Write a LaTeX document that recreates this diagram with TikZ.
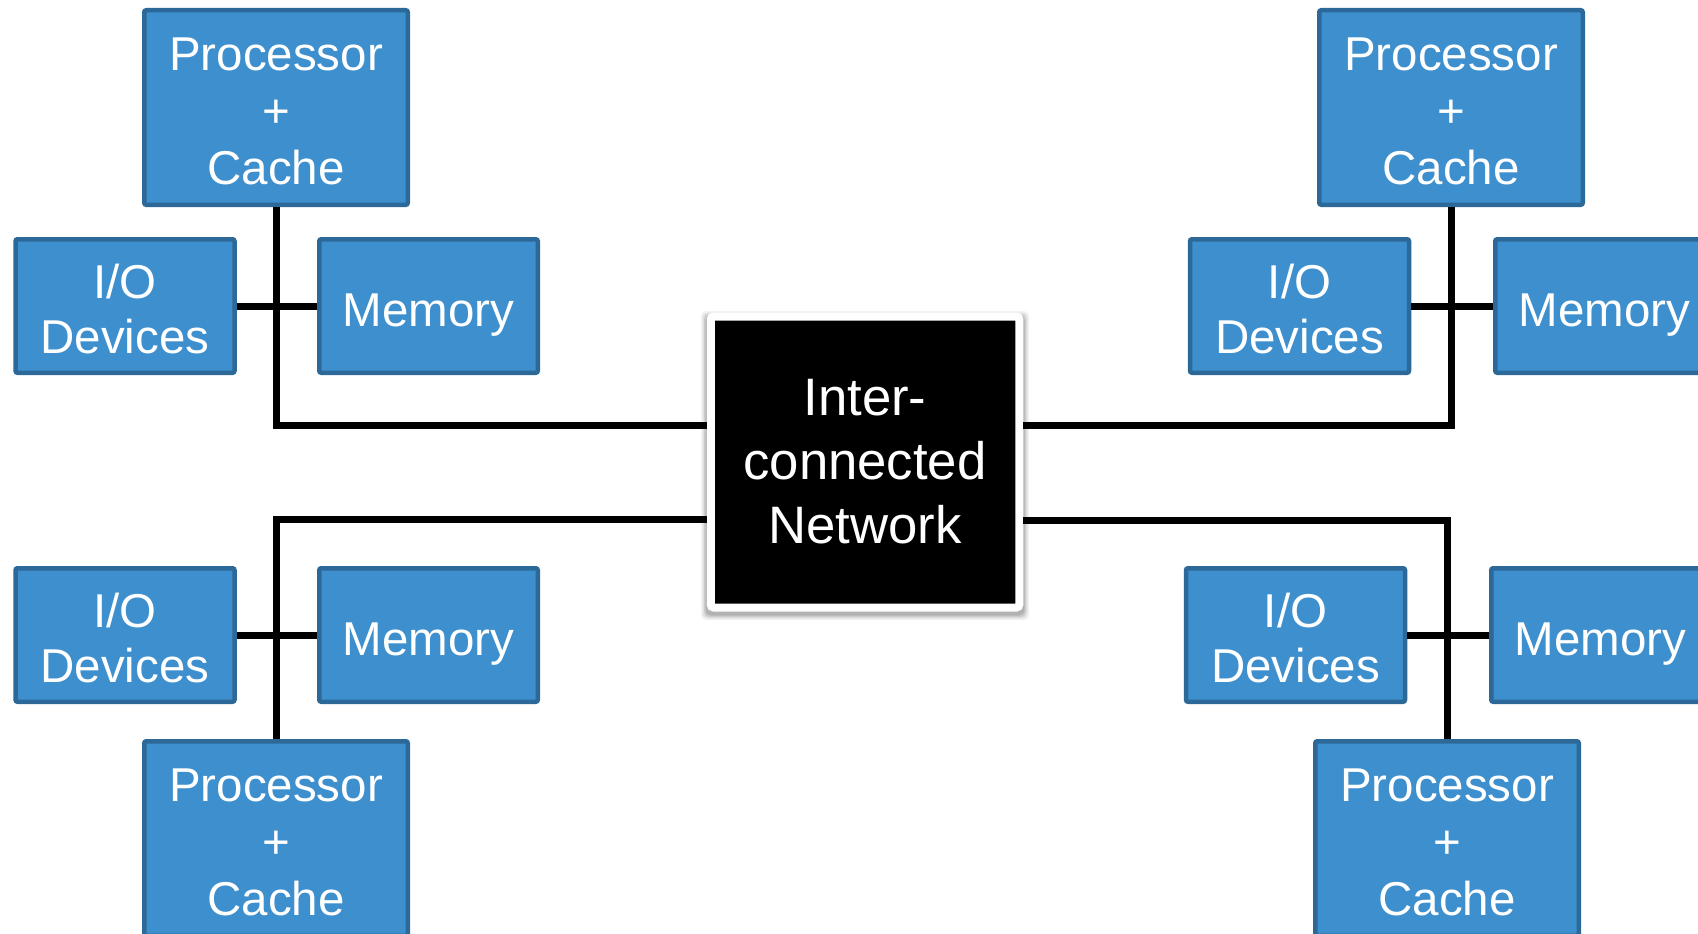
\documentclass[tikz,border=0pt]{standalone}
\usepackage{fontspec}
\setmainfont{Liberation Sans}
\definecolor{boxblue}{RGB}{62,143,205}
\definecolor{boxedge}{RGB}{44,104,152}
% invisible strut that lowers the text block inside a box
\newcommand{\lift}[1]{\rule{0pt}{#1pt}}
\tikzset{
  blk/.style={fill=boxblue, draw=boxedge, line width=4.5pt, rounded corners=2pt,
    text=white, align=center, inner sep=0pt},
  cpu/.style={blk, minimum width=263.5pt, minimum height=194.5pt,
    font=\fontsize{47.5}{57}\selectfont},
  iodev/.style={blk, minimum width=219pt, minimum height=133.5pt,
    font=\fontsize{47.5}{55}\selectfont},
  mem/.style={blk, minimum width=218.5pt, minimum height=133.5pt,
    font=\fontsize{47.5}{55}\selectfont},
  netbox/.style={fill=black, draw=white, line width=8pt, rounded corners=3pt,
    text=white, align=center, inner sep=0pt,
    minimum width=308.5pt, minimum height=291pt,
    font=\fontsize{52.7}{64}\selectfont},
  wire/.style={draw=black, line width=7pt}
}
\begin{document}
\begin{tikzpicture}[x=1pt, y=-1pt]
\useasboundingbox (0,0) rectangle (1698,934);
\fill[white] (0,0) rectangle (1698,934);
\clip (0,0) rectangle (1698,934);

% soft shadow under the network box
\foreach \g/\o in {6/0.05,4.5/0.07,3/0.09,1.5/0.12}{
  \fill[black, opacity=\o, rounded corners=5pt]
    (707-\g,313-\g+4) rectangle (1023+\g,612+\g+2);
}

% central network
\node[netbox] (net) at (865,462) {Inter-\\connected\\Network};

% top-left node group
\node[cpu]   (pTL)  at (276,107.5)   {\lift{41}Processor\\+\\Cache};
\node[iodev] (ioTL) at (125,306)     {\lift{40}I/O\\Devices};
\node[mem]   (mTL)  at (428.5,306)   {\lift{50}Memory};

% top-right node group
\node[cpu]   (pTR)  at (1451,107.5)  {\lift{41}Processor\\+\\Cache};
\node[iodev] (ioTR) at (1299.5,306)  {\lift{40}I/O\\Devices};
\node[mem]   (mTR)  at (1604.5,306)  {\lift{50}Memory};

% bottom-left node group
\node[iodev] (ioBL) at (125,635)     {\lift{40}I/O\\Devices};
\node[mem]   (mBL)  at (428.5,635)   {\lift{50}Memory};
\node[cpu]   (pBL)  at (276,838.5)   {\lift{41}Processor\\+\\Cache};

% bottom-right node group
\node[iodev] (ioBR) at (1295.5,635)  {\lift{40}I/O\\Devices};
\node[mem]   (mBR)  at (1600.5,635)  {\lift{50}Memory};
\node[cpu]   (pBR)  at (1447,838.5)  {\lift{41}Processor\\+\\Cache};

% attachment points on the network box
\coordinate (nL1) at (net.west |- 0,425);
\coordinate (nL2) at (net.west |- 0,519);
\coordinate (nR1) at (net.east |- 0,425);
\coordinate (nR2) at (net.east |- 0,520);

% buses
\draw[wire] (pTL.south) |- (nL1);
\draw[wire] (ioTL.east) -- (mTL.west);
\draw[wire] (pTR.south) |- (nR1);
\draw[wire] (ioTR.east) -- (mTR.west);
\draw[wire] (nL2) -| (pBL.north);
\draw[wire] (ioBL.east) -- (mBL.west);
\draw[wire] (nR2) -| (pBR.north);
\draw[wire] (ioBR.east) -- (mBR.west);
\end{tikzpicture}
\end{document}
